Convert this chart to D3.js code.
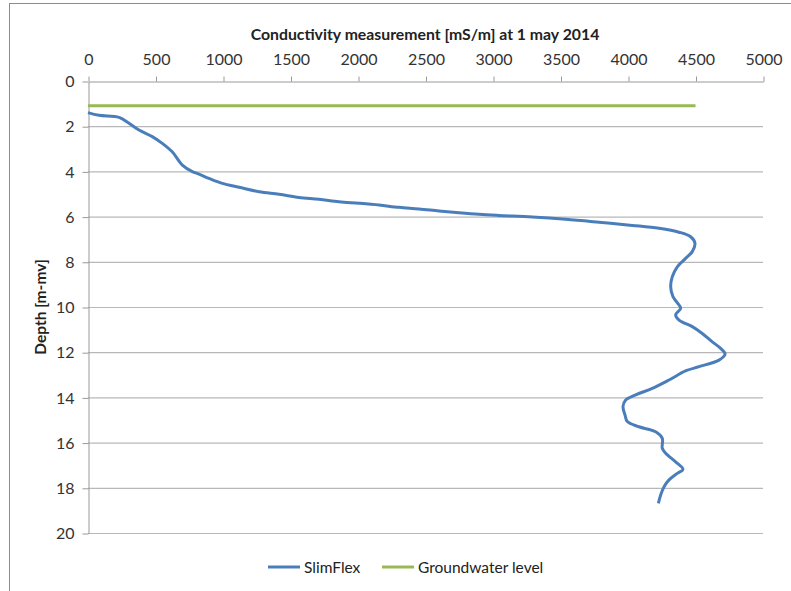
<!DOCTYPE html>
<html>
<head>
<meta charset="utf-8">
<script src="https://cdn.jsdelivr.net/npm/d3@7.9.0/dist/d3.min.js"></script>
<style>
  body { margin: 0; background: #fff; }
  svg text { font-family: Lato, "Open Sans", sans-serif; }
</style>
</head>
<body>
<svg id="chart" width="791" height="591"></svg>
<script>
// conductivity ticks (top axis) and depth ticks (left axis)
const condTicks = [0, 500, 1000, 1500, 2000, 2500, 3000, 3500, 4000, 4500, 5000];
const depthTicks = [0, 2, 4, 6, 8, 10, 12, 14, 16, 18, 20];

// SlimFlex profile
const slimCond = [0, 81, 230, 304, 378, 476, 550, 624, 699, 773, 822, 896, 995, 1119, 1267, 1415, 1563, 1711, 1859, 2007,
  2156, 2304, 2452, 2600, 2748, 2896, 3044, 3291, 3539, 3785, 4032, 4230, 4378, 4464, 4496, 4476, 4427, 4365, 4328, 4316,
  4333, 4378, 4390, 4353, 4378, 4476, 4550, 4624, 4686, 4719, 4674, 4526, 4430, 4304, 4180, 4057, 3983, 3963, 3978, 3995,
  4081, 4205, 4254, 4254, 4279, 4353, 4407, 4365, 4304, 4267, 4242, 4225];
const slimDepth = [1.40, 1.52, 1.61, 1.87, 2.17, 2.46, 2.76, 3.13, 3.72, 4.01, 4.12, 4.31, 4.53, 4.70, 4.90, 5.01, 5.15, 5.23, 5.34, 5.41,
  5.49, 5.59, 5.66, 5.75, 5.83, 5.90, 5.95, 6.02, 6.12, 6.25, 6.39, 6.52, 6.69, 6.89, 7.18, 7.55, 7.85, 8.22, 8.66, 9.10,
  9.54, 9.91, 10.06, 10.35, 10.58, 10.87, 11.17, 11.54, 11.83, 12.08, 12.35, 12.64, 12.82, 13.23, 13.6, 13.89, 14.12, 14.41, 14.78, 15.07,
  15.3, 15.52, 15.81, 16.25, 16.47, 16.85, 17.18, 17.36, 17.65, 17.95, 18.32, 18.69];

// groundwater level
const gwCond = [0, 4500];
const gwDepth = [1.1, 1.1];

const seriesNames = ["SlimFlex", "Groundwater level"];
const seriesColors = ["#4a7ebb", "#98b954"];

const svg = d3.select("#chart");

// outer chart border (only left and top visible)
svg.append("rect")
  .attr("x", 9.5).attr("y", 3.5)
  .attr("width", 900).attr("height", 700)
  .attr("fill", "none")
  .attr("stroke", "#8c8c8c");

const x = d3.scaleLinear().domain([0, 5000]).range([88, 763]);
const y = d3.scaleLinear().domain([0, 20]).range([81, 533]);

// horizontal gridlines
svg.append("g")
  .selectAll("line")
  .data(depthTicks.slice(1))
  .join("line")
  .attr("x1", x(0)).attr("x2", x(5000))
  .attr("y1", d => y(d) + 0.5).attr("y2", d => y(d) + 0.5)
  .attr("stroke", "#b8b8b8")
  .attr("stroke-width", 1.2);

// top axis
const xAxisG = svg.append("g")
  .attr("transform", "translate(0.5,81.5)")
  .call(d3.axisTop(x).tickValues(condTicks).tickFormat(d3.format("d"))
    .tickSize(5).tickPadding(12).tickSizeOuter(0));

// left axis
const yAxisG = svg.append("g")
  .attr("transform", "translate(88.5,0.5)")
  .call(d3.axisLeft(y).tickValues(depthTicks).tickFormat(d3.format("d"))
    .tickSize(6).tickPadding(8).tickSizeOuter(0));

[xAxisG, yAxisG].forEach(g => {
  g.select(".domain").attr("stroke", "#999");
  g.selectAll(".tick line").attr("stroke", "#999");
  g.selectAll(".tick text")
    .attr("fill", "#333")
    .style("font-size", "16px");
});

// titles
svg.append("text")
  .attr("x", 425).attr("y", 40)
  .attr("text-anchor", "middle")
  .style("font-size", "15.8px")
  .style("font-weight", "bold")
  .attr("fill", "#222")
  .text("Conductivity measurement [mS/m] at 1 may 2014");

svg.append("text")
  .attr("transform", "translate(46,307) rotate(-90)")
  .attr("text-anchor", "middle")
  .style("font-size", "15.5px")
  .style("font-weight", "bold")
  .attr("fill", "#222")
  .text("Depth [m-mv]");

// series
const line = d3.line()
  .x(d => x(d[0]))
  .y(d => y(d[1]))
  .curve(d3.curveCatmullRom.alpha(0.5));

svg.append("path")
  .datum(gwCond.map((c, i) => [c, gwDepth[i]]))
  .attr("d", line)
  .attr("fill", "none")
  .attr("stroke", seriesColors[1])
  .attr("stroke-width", 3);

svg.append("path")
  .datum(slimCond.map((c, i) => [c, slimDepth[i]]))
  .attr("d", line)
  .attr("fill", "none")
  .attr("stroke", seriesColors[0])
  .attr("stroke-width", 3)
  .attr("stroke-linejoin", "round");

// legend
const legendX = [268, 382];
const legend = svg.append("g")
  .selectAll("g")
  .data(seriesNames)
  .join("g")
  .attr("transform", (d, i) => `translate(${legendX[i]},567)`);

legend.append("line")
  .attr("x1", 0).attr("x2", 32)
  .attr("stroke", (d, i) => seriesColors[i])
  .attr("stroke-width", 3);

legend.append("text")
  .attr("x", 36).attr("y", 5.5)
  .style("font-size", "15.5px")
  .attr("fill", "#222")
  .text(d => d);
</script>
</body>
</html>
